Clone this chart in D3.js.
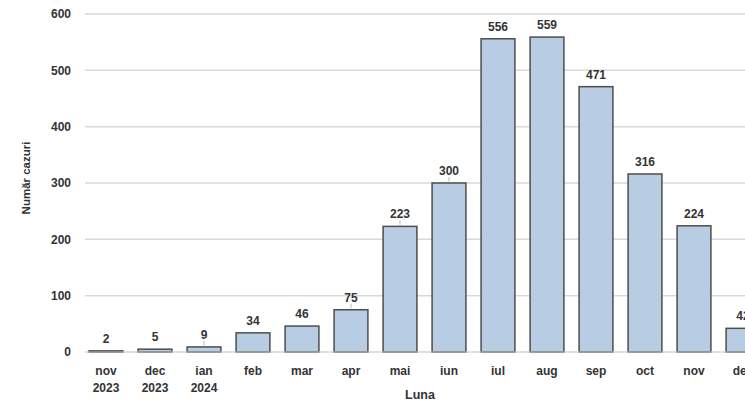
<!DOCTYPE html>
<html><head><meta charset="utf-8">
<script src="https://cdn.jsdelivr.net/npm/d3@7"></script>
<style>
html,body{margin:0;padding:0;background:#fff;overflow:hidden;}
text{font-family:"Liberation Sans",Arial,sans-serif;font-weight:bold;fill:#333;}
</style></head>
<body><svg id="c" width="745" height="403"></svg>
<script>
const categories = [["nov","2023"],["dec","2023"],["ian","2024"],["feb"],["mar"],["apr"],["mai"],["iun"],["iul"],["aug"],["sep"],["oct"],["nov"],["dec"]];
const values = [2,5,9,34,46,75,223,300,556,559,471,316,224,42];
const leaderIdx = [2,5,6,7];
const yTicks = [0,100,200,300,400,500,600];
const yTitle = "Număr cazuri";
const xTitle = "Luna";

const svg = d3.select("#c");
const ids = categories.map((c,i)=>i);
const x = d3.scaleBand().domain(ids).range([81.5, 81.5+14*49]).paddingInner(0.31).paddingOuter(0.155);
const y = d3.scaleLinear().domain([0,600]).range([352,14]);

// gridlines
svg.append("g").selectAll("line").data(yTicks.filter(d=>d>0)).join("line")
  .attr("x1",85).attr("x2",745).attr("y1",d=>y(d)).attr("y2",d=>y(d))
  .attr("stroke","#d9d9d9").attr("stroke-width",1.5);

// y axis labels
const yAxis = d3.axisLeft(y).tickValues(yTicks).tickSize(0).tickPadding(0);
const ga = svg.append("g").attr("transform","translate(71,0)").call(yAxis);
ga.select(".domain").remove();
ga.selectAll("text").attr("font-size",12).attr("font-family","Liberation Sans, Arial, sans-serif").attr("font-weight","bold").attr("fill","#333");

// bars
svg.append("g").selectAll("rect").data(values).join("rect")
  .attr("x",(d,i)=>x(i)).attr("width",x.bandwidth())
  .attr("y",d=>y(d)).attr("height",d=>y(0)-y(d))
  .attr("fill","#b8cce4").attr("stroke","#4d4d4d").attr("stroke-width",1.5);

// baseline
svg.append("line").attr("x1",85).attr("x2",745).attr("y1",y(0)).attr("y2",y(0))
  .attr("stroke","#bfbfbf").attr("stroke-width",1.2);

// leader lines
svg.append("g").selectAll("line").data(leaderIdx).join("line")
  .attr("x1",i=>x(i)+x.bandwidth()/2).attr("x2",i=>x(i)+x.bandwidth()/2)
  .attr("y1",i=>y(values[i])-1.5).attr("y2",i=>y(values[i])-6)
  .attr("stroke","#bbb").attr("stroke-width",1);

// value labels
svg.append("g").selectAll("text").data(values).join("text")
  .attr("x",(d,i)=>x(i)+x.bandwidth()/2).attr("y",d=>y(d)-8)
  .attr("text-anchor","middle").attr("font-size",12).text(d=>d);

// x labels
const xl = svg.append("g").selectAll("text").data(categories).join("text")
  .attr("x",(d,i)=>x(i)+x.bandwidth()/2).attr("y",375)
  .attr("text-anchor","middle").attr("font-size",12);
xl.selectAll("tspan").data(d=>d).join("tspan")
  .attr("x",function(){return this.parentNode.getAttribute("x");})
  .attr("dy",(d,i)=>i===0?0:17).text(d=>d);

// titles
svg.append("text").attr("x",420).attr("y",399).attr("text-anchor","middle").attr("font-size",12.5).text(xTitle);
svg.append("text").attr("transform","translate(30,178) rotate(-90)").attr("text-anchor","middle").attr("font-size",11.5).text(yTitle);
</script></body></html>
